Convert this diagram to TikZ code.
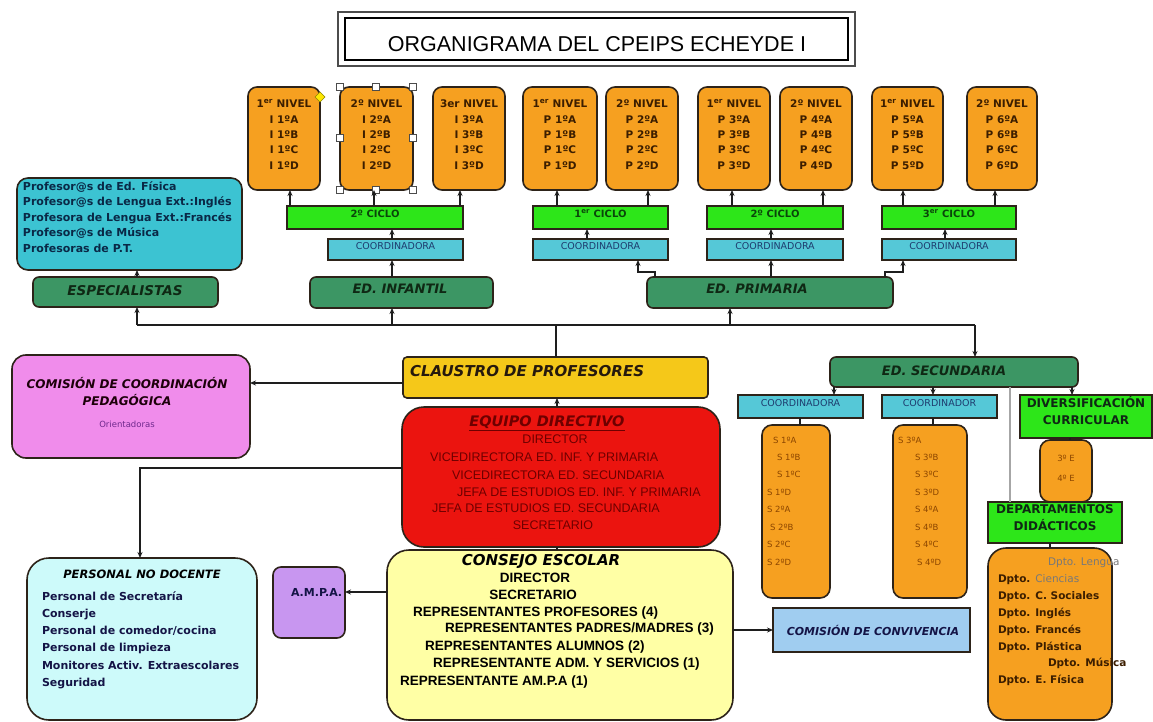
\documentclass[tikz,border=0pt]{standalone}
\usepackage{fontspec}
\setmainfont{Liberation Sans}
\newfontfamily\dv{DejaVu Sans}
\usetikzlibrary{fit,arrows.meta}
\definecolor{orng}{RGB}{246,160,32}
\definecolor{bord}{RGB}{45,35,25}
\definecolor{lgreen}{RGB}{45,230,25}
\definecolor{coordc}{RGB}{85,200,215}
\definecolor{dgreen}{RGB}{60,150,100}
\definecolor{espc}{RGB}{60,195,210}
\definecolor{mypink}{RGB}{240,140,235}
\definecolor{claus}{RGB}{245,200,25}
\definecolor{myred}{RGB}{235,20,15}
\definecolor{consc}{RGB}{255,255,165}
\definecolor{ampac}{RGB}{200,150,240}
\definecolor{persc}{RGB}{205,250,250}
\definecolor{convc}{RGB}{160,205,240}
\definecolor{otxt}{RGB}{60,30,0}
\definecolor{ctxt}{RGB}{10,70,10}
\definecolor{cotxt}{RGB}{30,60,110}
\definecolor{edtxt}{RGB}{15,40,20}
\definecolor{esptxt}{RGB}{10,40,70}
\definecolor{eqtxt}{RGB}{110,0,0}
\definecolor{stxt}{RGB}{140,70,0}
\definecolor{linec}{RGB}{30,30,30}
\definecolor{dgray}{RGB}{120,120,120}
\definecolor{navy}{RGB}{20,20,70}
\definecolor{purp}{RGB}{110,40,140}
\tikzset{
  bx/.style={draw=bord, line width=1.6pt, inner sep=0pt, outer sep=0pt},
  obox/.style={bx, fill=orng, rounded corners=9pt, align=center, text=otxt,
    font=\dv\bfseries\fontsize{10.5}{15.4}\selectfont},
  cicbox/.style={bx, fill=lgreen, text=ctxt, font=\dv\bfseries\fontsize{10}{12}\selectfont},
  cobox/.style={bx, fill=coordc, text=cotxt, font=\dv\fontsize{9.5}{11}\selectfont},
  edbox/.style={bx, fill=dgreen, rounded corners=6pt, text=edtxt,
    font=\dv\bfseries\itshape\fontsize{13}{15}\selectfont},
  txt/.style={inner sep=0pt, outer sep=0pt},
  ln/.style={draw=linec, line width=1.4pt},
  arr/.style={ln, -{Stealth[length=6pt,width=5pt]}},
  gline/.style={draw=gray!70, line width=1.6pt},
  cons/.style={txt, anchor=west, font=\bfseries\fontsize{13.5}{15}\selectfont, text=black},
  eqs/.style={txt, anchor=west, font=\fontsize{12.5}{14}\selectfont, text=eqtxt},
}
\begin{document}
\begin{tikzpicture}[x=1pt,y=-1pt]
\fill[white] (0,0) rectangle (1153,722);
\useasboundingbox (0,0) rectangle (1153,722);

% title
\node[draw=gray!60!black, line width=2.5pt, inner sep=0pt, fit={(338,12) (855,66)}] (tout) {};
\node[draw=black, line width=1.2pt, inner sep=0pt, fit={(345,18) (848,60)}] (tin) {};
\node[txt, font=\fontsize{21.5}{24}\selectfont] (ttl) at (597,44) {ORGANIGRAMA DEL CPEIPS ECHEYDE I};

% top level boxes
\node[obox, fit={(248,87) (320,190)}] (i1) {1\textsuperscript{er} NIVEL\\I 1ºA\\I 1ºB\\I 1ºC\\I 1ºD};
\node[obox, fit={(340,87) (413,190)}] (i2) {2º NIVEL\\I 2ºA\\I 2ºB\\I 2ºC\\I 2ºD};
\node[obox, fit={(433,87) (505,190)}] (i3) {3er NIVEL\\I 3ºA\\I 3ºB\\I 3ºC\\I 3ºD};
\node[obox, fit={(523,87) (597,190)}] (p1) {1\textsuperscript{er} NIVEL\\P 1ºA\\P 1ºB\\P 1ºC\\P 1ºD};
\node[obox, fit={(606,87) (678,190)}] (p2) {2º NIVEL\\P 2ºA\\P 2ºB\\P 2ºC\\P 2ºD};
\node[obox, fit={(698,87) (770,190)}] (p3) {1\textsuperscript{er} NIVEL\\P 3ºA\\P 3ºB\\P 3ºC\\P 3ºD};
\node[obox, fit={(780,87) (852,190)}] (p4) {2º NIVEL\\P 4ºA\\P 4ºB\\P 4ºC\\P 4ºD};
\node[obox, fit={(872,87) (943,190)}] (p5) {1\textsuperscript{er} NIVEL\\P 5ºA\\P 5ºB\\P 5ºC\\P 5ºD};
\node[obox, fit={(967,87) (1037,190)}] (p6) {2º NIVEL\\P 6ºA\\P 6ºB\\P 6ºC\\P 6ºD};

% selection handles
\foreach \hx/\hy in {340/87,376/87,413/87,340/138,413/138,340/190,376/190,413/190}
  \filldraw[fill=white, draw=gray!60!black, line width=0.8pt] (\hx-3.5,\hy-3.5) rectangle (\hx+3.5,\hy+3.5);
\filldraw[fill=yellow!90!orange, draw=olive, line width=0.6pt] (320,92) -- (325,97) -- (320,102) -- (315,97) -- cycle;

% ciclos
\node[cicbox, fit={(287,206) (463,229)}] (c1) {2º CICLO};
\node[cicbox, fit={(533,206) (668,229)}] (c2) {1\textsuperscript{er} CICLO};
\node[cicbox, fit={(707,206) (843,229)}] (c3) {2º CICLO};
\node[cicbox, fit={(882,206) (1016,229)}] (c4) {3\textsuperscript{er} CICLO};
\node[cobox, fit={(328,239) (463,260)}] (k1) {COORDINADORA};
\node[cobox, fit={(533,239) (668,260)}] (k2) {COORDINADORA};
\node[cobox, fit={(707,239) (843,260)}] (k3) {COORDINADORA};
\node[cobox, fit={(882,239) (1016,260)}] (k4) {COORDINADORA};

% ED boxes
\node[edbox, fit={(33,277) (218,307)}] (esp) {};
\node[txt, font=\dv\bfseries\itshape\fontsize{13.5}{15}\selectfont, text=edtxt] (espt) at (125,291) {ESPECIALISTAS};
\node[edbox, fit={(310,277) (493,308)}] (inf) {};
\node[txt, font=\dv\bfseries\itshape\fontsize{13}{15}\selectfont, text=edtxt] (inft) at (400,289) {ED. INFANTIL};
\node[edbox, fit={(647,277) (893,308)}] (prim) {};
\node[txt, font=\dv\bfseries\itshape\fontsize{13}{15}\selectfont, text=edtxt] (primt) at (757,289) {ED. PRIMARIA};

% especialistas
\node[bx, fill=espc, rounded corners=11pt, fit={(17,178) (242,270)}] (espc) {};
\node[txt, anchor=west, align=left, text=esptxt, font=\dv\bfseries\fontsize{11}{15.5}\selectfont] (espl) at (23,217)
  {Profesor@s de Ed. Física\\Profesor@s de Lengua Ext.:Inglés\\Profesora de Lengua Ext.:Francés\\Profesor@s de Música\\Profesoras de P.T.};

% bus
\coordinate (bE) at (137,325);
\coordinate (bI) at (392,325);
\coordinate (bC) at (556,325);
\coordinate (bP) at (730,325);
\coordinate (bS) at (975,325);
\draw[ln] (bE) -- (bS);
\draw[arr] (bE) -- (esp.south -| bE);
\draw[arr] (bI) -- (inf.south -| bI);
\draw[arr] (bP) -- (prim.south -| bP);
\draw[arr] (esp.north -| bE) -- (espc.south -| bE);
\draw[arr] (inf.north -| bI) -- (k1.south -| bI);
\draw[arr] (k1.north -| bI) -- (c1.south -| bI);

% ciclo -> levels
\coordinate (xi1) at (290,0);
\coordinate (xi2) at (374,0);
\coordinate (xi3) at (460,0);
\coordinate (xp1) at (557,0);
\coordinate (xp2) at (648,0);
\coordinate (xp3) at (732,0);
\coordinate (xp4) at (823,0);
\coordinate (xp5) at (903,0);
\coordinate (xp6) at (995,0);
\draw[arr] (c1.north -| xi1) -- (i1.south -| xi1);
\draw[arr] (c1.north -| xi2) -- (i2.south -| xi2);
\draw[arr] (c1.north -| xi3) -- (i3.south -| xi3);
\draw[arr] (c2.north -| xp1) -- (p1.south -| xp1);
\draw[arr] (c2.north -| xp2) -- (p2.south -| xp2);
\draw[arr] (c3.north -| xp3) -- (p3.south -| xp3);
\draw[arr] (c3.north -| xp4) -- (p4.south -| xp4);
\draw[arr] (c4.north -| xp5) -- (p5.south -| xp5);
\draw[arr] (c4.north -| xp6) -- (p6.south -| xp6);

% coordinadoras -> ciclos
\coordinate (xk2) at (587,0);
\coordinate (xk3) at (771,0);
\coordinate (xk4) at (945,0);
\draw[arr] (k2.north -| xk2) -- (c2.south -| xk2);
\draw[arr] (k3.north -| xk3) -- (c3.south -| xk3);
\draw[arr] (k4.north -| xk4) -- (c4.south -| xk4);

% primaria -> coordinadoras
\coordinate (e1) at (655,272);
\coordinate (e2) at (638,272);
\coordinate (e3) at (885,272);
\coordinate (e4) at (903,272);
\draw[arr] (prim.north -| e1) -- (e1) -- (e2) -- (k2.south -| e2);
\draw[arr] (prim.north -| xk3) -- (k3.south -| xk3);
\draw[arr] (prim.north -| e3) -- (e3) -- (e4) -- (k4.south -| e4);

% claustro
\node[bx, fill=claus, rounded corners=4pt, fit={(403,357) (708,398)}] (claustro) {};
\node[txt, anchor=west, font=\dv\bfseries\itshape\fontsize{15}{17}\selectfont, text=black!80!brown] (claut) at (410,371) {CLAUSTRO DE PROFESORES};
\draw[ln] (claustro.north -| bC) -- (bC);

% comision coordinacion pedagogica
\node[bx, fill=mypink, rounded corners=14pt, fit={(12,355) (250,458)}] (ccp) {};
\node[txt, align=center, font=\dv\bfseries\itshape\fontsize{12}{17}\selectfont, text=black!85!purple] (ccpt) at (127,392) {COMISIÓN DE COORDINACIÓN\\PEDAGÓGICA};
\node[txt, font=\dv\fontsize{8.5}{10}\selectfont, text=purp] (ccpo) at (127,424) {Orientadoras};
\coordinate (yc) at (0,383);
\draw[arr] (claustro.west |- yc) -- (ccp.east |- yc);

% equipo directivo
\node[bx, fill=myred, rounded corners=22pt, fit={(402,407) (720,547)}] (eq) {};
\node[txt, font=\dv\bfseries\itshape\fontsize{14.5}{16}\selectfont, text=eqtxt] (eqh) at (547,423) {\underline{EQUIPO DIRECTIVO}};
\node[eqs, anchor=center] (eq1) at (555,439) {DIRECTOR};
\node[eqs] (eq2) at (430,457) {VICEDIRECTORA ED. INF. Y PRIMARIA};
\node[eqs] (eq3) at (452,475) {VICEDIRECTORA ED. SECUNDARIA};
\node[eqs] (eq4) at (457,492) {JEFA DE ESTUDIOS ED. INF. Y PRIMARIA};
\node[eqs] (eq5) at (432,508) {JEFA DE ESTUDIOS ED. SECUNDARIA};
\node[eqs, anchor=center] (eq6) at (553,525) {SECRETARIO};
\coordinate (xm) at (557,0);
\draw[arr] (eq.north -| xm) -- (claustro.south -| xm);

% personal no docente
\node[bx, fill=persc, rounded corners=22pt, fit={(27,558) (257,720)}] (pers) {};
\node[txt, font=\dv\bfseries\itshape\fontsize{11.5}{13}\selectfont, text=black] (perst) at (142,574) {PERSONAL NO DOCENTE};
\node[txt, anchor=west, align=left, text=navy, font=\dv\bfseries\fontsize{11}{17.2}\selectfont] (persl) at (42,640)
  {Personal de Secretaría\\Conserje\\Personal de comedor/cocina\\Personal de limpieza\\Monitores Activ. Extraescolares\\Seguridad};
\coordinate (yE) at (0,468);
\coordinate (xpn) at (140,0);
\draw[arr] (eq.west |- yE) -- (xpn |- yE) -- (pers.north -| xpn);

% consejo escolar
\node[bx, fill=consc, rounded corners=22pt, fit={(387,550) (733,720)}] (cons) {};
\draw[ln] (eq.south -| xm) -- (cons.north -| xm);
\node[txt, font=\dv\bfseries\itshape\fontsize{15}{17}\selectfont, text=black] (conh) at (541,561) {CONSEJO ESCOLAR};
\node[cons, anchor=center] (co1) at (535,578) {DIRECTOR};
\node[cons, anchor=center] (co2) at (533,595) {SECRETARIO};
\node[cons] (co3) at (413,613) {REPRESENTANTES PROFESORES (4)};
\node[cons] (co4) at (445,629) {REPRESENTANTES PADRES/MADRES (3)};
\node[cons] (co5) at (425,647) {REPRESENTANTES ALUMNOS (2)};
\node[cons] (co6) at (433,664) {REPRESENTANTE ADM. Y SERVICIOS (1)};
\node[cons] (co7) at (400,682) {REPRESENTANTE AM.P.A (1)};

% ampa
\node[bx, fill=ampac, rounded corners=8pt, fit={(273,567) (345,638)}] (ampa) {};
\node[txt, anchor=west, font=\dv\bfseries\fontsize{11}{13}\selectfont, text=navy] (ampat) at (291,592) {A.M.P.A.};
\coordinate (ya) at (0,592);
\draw[arr] (cons.west |- ya) -- (ampa.east |- ya);

% convivencia
\node[bx, fill=convc, fit={(773,608) (970,652)}] (conv) {};
\node[txt, font=\dv\bfseries\itshape\fontsize{11}{13}\selectfont, text=navy] (convt) at (873,630) {COMISIÓN DE CONVIVENCIA};
\coordinate (yv) at (0,630);
\draw[arr] (cons.east |- yv) -- (conv.west |- yv);

% secundaria
\node[edbox, fit={(830,357) (1078,387)}] (sec) {};
\node[txt, font=\dv\bfseries\itshape\fontsize{13}{15}\selectfont, text=edtxt] (sect) at (944,371) {ED. SECUNDARIA};
\draw[arr] (bS) -- (sec.north -| bS);
\node[cobox, fit={(738,395) (863,418)}] (sk1) {COORDINADORA};
\node[cobox, fit={(882,395) (997,418)}] (sk2) {COORDINADOR};
\node[bx, fill=lgreen, align=center, text=edtxt, font=\dv\bfseries\fontsize{12}{17}\selectfont, fit={(1020,395) (1152,438)}] (div) {DIVERSIFICACIÓN\\CURRICULAR};
\coordinate (xs1) at (834,0);
\coordinate (xs2) at (933,0);
\coordinate (xs3) at (1072,0);
\coordinate (xg) at (1010,0);
\draw[arr] (sec.south -| xs1) -- (sk1.north -| xs1);
\draw[arr] (sec.south -| xs2) -- (sk2.north -| xs2);
\draw[arr] (sec.south -| xs3) -- (div.north -| xs3);

% S boxes
\node[bx, fill=orng, rounded corners=10pt, fit={(762,425) (830,598)}] (s1) {};
\node[bx, fill=orng, rounded corners=10pt, fit={(893,425) (967,598)}] (s2) {};
\node[txt, anchor=west, align=left, text=stxt, font=\dv\fontsize{8.5}{17.4}\selectfont] (s1t) at (767,501)
  {\hspace*{6pt}S 1ºA\\\hspace*{10pt}S 1ºB\\\hspace*{10pt}S 1ºC\\S 1ºD\\S 2ºA\\\hspace*{3pt}S 2ºB\\S 2ºC\\S 2ºD};
\node[txt, anchor=west, align=left, text=stxt, font=\dv\fontsize{8.5}{17.4}\selectfont] (s2t) at (898,501)
  {S 3ºA\\\hspace*{17pt}S 3ºB\\\hspace*{17pt}S 3ºC\\\hspace*{17pt}S 3ºD\\\hspace*{17pt}S 4ºA\\\hspace*{17pt}S 4ºB\\\hspace*{17pt}S 4ºC\\\hspace*{19pt}S 4ºD};
\coordinate (xk5) at (800,0);
\draw[ln, line width=2.2pt] (sk1.south -| xk5) -- (s1.north -| xk5);
\draw[ln, line width=2.2pt] (sk2.south -| xs2) -- (s2.north -| xs2);

% diversificacion box
\node[bx, fill=orng, rounded corners=10pt, align=center, text=stxt, font=\dv\fontsize{8.5}{20}\selectfont, fit={(1040,440) (1092,502)}] (divo) {3º E\\4º E};
\coordinate (xd) at (1070,0);
\draw[ln, line width=2pt] (div.south -| xd) -- (divo.north -| xd);

% departamentos
\node[bx, fill=lgreen, align=center, text=edtxt, font=\dv\bfseries\fontsize{12}{17}\selectfont, fit={(988,502) (1122,543)}] (dep) {DEPARTAMENTOS\\DIDÁCTICOS};
\draw[gline] (sec.south -| xg) -- (dep.north -| xg);
\node[bx, fill=orng, rounded corners=18pt, fit={(988,548) (1112,720)}] (dpto) {};
\coordinate (xdp) at (1050,0);
\draw[ln, line width=2pt] (dep.south -| xdp) -- (dpto.north -| xdp);
\node[txt, anchor=west, align=left, text=otxt, font=\dv\bfseries\fontsize{10.5}{16.9}\selectfont] (dptot) at (998,622)
  {\hspace*{50pt}\textcolor{dgray}{\mdseries Dpto. Lengua}\\Dpto. \textcolor{dgray}{\mdseries Ciencias}\\Dpto. C. Sociales\\Dpto. Inglés\\Dpto. Francés\\Dpto. Plástica\\\hspace*{50pt}Dpto. Música\\Dpto. E. Física};
\end{tikzpicture}
\end{document}
